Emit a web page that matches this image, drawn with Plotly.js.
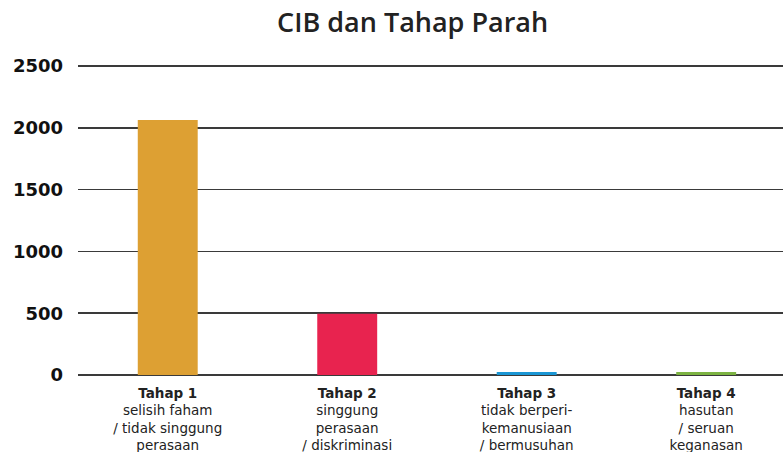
<!DOCTYPE html>
<html>
<head>
<meta charset="utf-8">
<script src="https://cdn.plot.ly/plotly-3.0.1.min.js"></script>
<style>html,body{margin:0;padding:0;background:#fff;overflow:hidden}</style>
</head>
<body>
<div id="chart" style="width:783px;height:452px"></div>
<script>
const categories = ["Tahap 1", "Tahap 2", "Tahap 3", "Tahap 4"];
const descriptions = [
  ["selisih faham", "/ tidak singgung", "perasaan"],
  ["singgung", "perasaan", "/ diskriminasi"],
  ["tidak berperi-", "kemanusiaan", "/ bermusuhan"],
  ["hasutan", "/ seruan", "keganasan"]
];
const values = [2063, 495, 25, 25];
const colors = ["#DDA033", "#E8234F", "#1A96D4", "#7CB342"];
const yTicks = [0, 500, 1000, 1500, 2000, 2500];

const tickText = categories.map((c, i) => "<b>" + c + "</b><br>" + descriptions[i].join("<br>"));

const trace = {
  type: "bar",
  x: [0, 1, 2, 3],
  y: values,
  width: 0.334,
  marker: { color: colors },
  hoverinfo: "skip"
};

const layout = {
  width: 783,
  height: 452,
  margin: { l: 78, r: 0, t: 64, b: 77 },
  paper_bgcolor: "#fff",
  plot_bgcolor: "#fff",
  showlegend: false,
  title: {
    text: "CIB dan Tahap Parah",
    font: { family: "Open Sans, Lato, sans-serif", size: 27, color: "#222", weight: 600 },
    x: 0.527, xref: "container", xanchor: "center",
    y: 0.95, yref: "container", yanchor: "middle"
  },
  xaxis: {
    range: [-0.5, 3.428],
    tickmode: "array",
    tickvals: [0, 1, 2, 3],
    ticktext: tickText,
    showgrid: false,
    zeroline: false,
    showline: false,
    ticks: "",
    ticklabelstandoff: 8,
    tickfont: { family: "DejaVu Sans, sans-serif", size: 13.5, color: "#222" },
    fixedrange: true
  },
  yaxis: {
    range: [0, 2516],
    tickmode: "array",
    tickvals: yTicks,
    ticktext: yTicks.map(String),
    showgrid: true,
    gridcolor: "#3a3a3a",
    gridwidth: 1.6,
    zeroline: true,
    zerolinecolor: "#3a3a3a",
    zerolinewidth: 1.6,
    showline: false,
    ticks: "",
    ticklabelstandoff: 14,
    tickfont: { family: "DejaVu Sans, sans-serif", size: 18, color: "#111", weight: 700 },
    fixedrange: true
  }
};

Plotly.newPlot("chart", [trace], layout, { displayModeBar: false, staticPlot: true });
</script>
</body>
</html>
